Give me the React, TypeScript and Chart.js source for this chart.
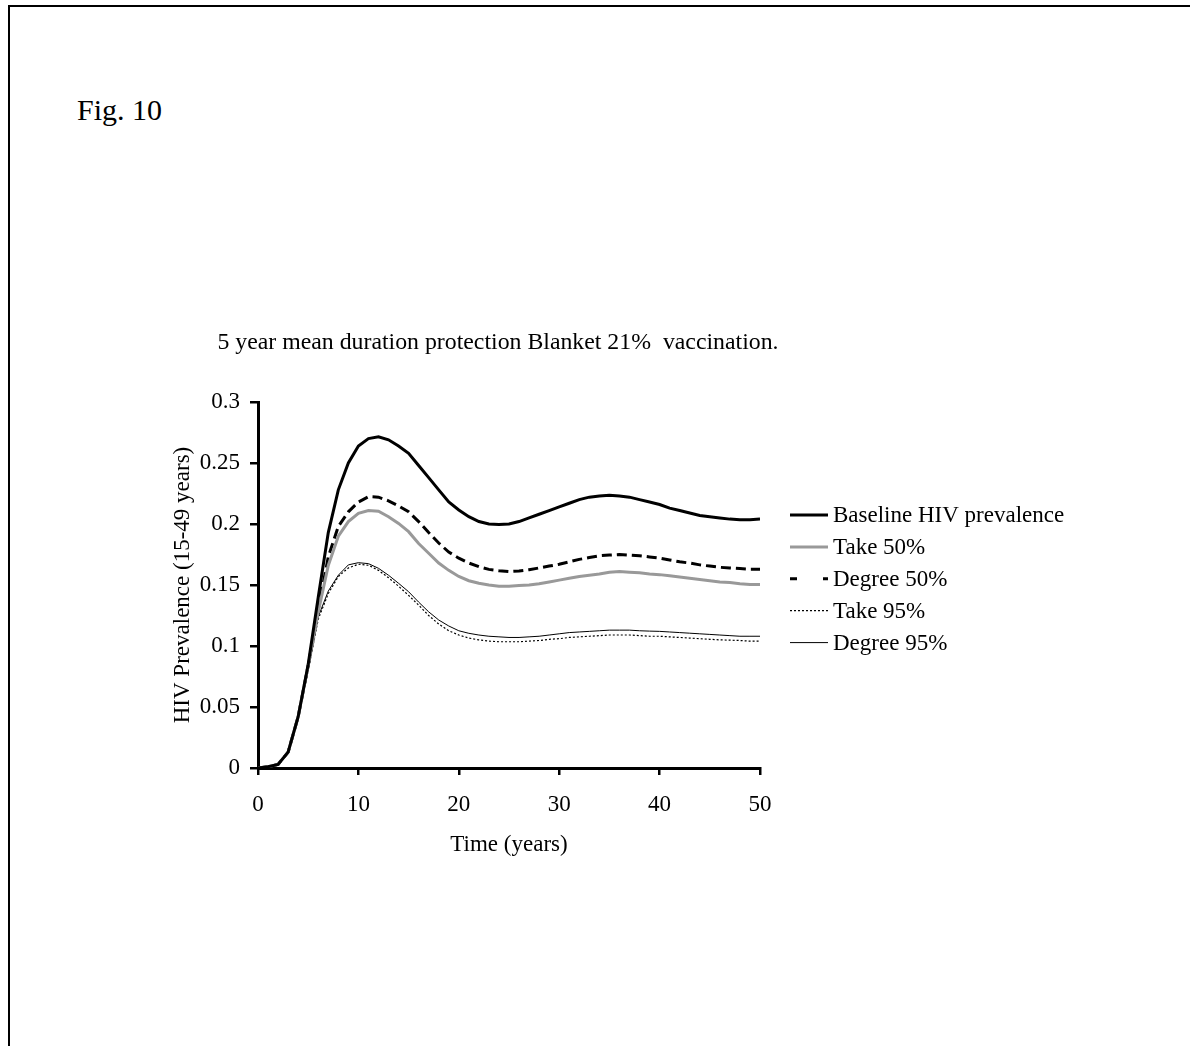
import React, { useEffect, useRef } from "react";
import { Chart, registerables } from "chart.js";

Chart.register(...registerables);

const FIG_LABEL = "Fig. 10";
const CHART_TITLE = "5 year mean duration protection Blanket 21%  vaccination.";
const X_TITLE = "Time (years)";
const Y_TITLE = "HIV Prevalence (15-49 years)";

const YEARS = [
  0, 1, 2, 3, 4, 5, 6, 7, 8, 9, 10, 11, 12, 13, 14, 15, 16, 17, 18, 19, 20, 21, 22, 23, 24, 25,
  26, 27, 28, 29, 30, 31, 32, 33, 34, 35, 36, 37, 38, 39, 40, 41, 42, 43, 44, 45, 46, 47, 48, 49, 50,
];

const SERIES_NAMES = ["Baseline HIV prevalence", "Take 50%", "Degree 50%", "Take 95%", "Degree 95%"];

const BASELINE = [
  0, 0.001, 0.003, 0.013, 0.042, 0.085, 0.14, 0.193, 0.228, 0.25, 0.264, 0.27, 0.2715, 0.269, 0.264,
  0.258, 0.248, 0.238, 0.228, 0.218, 0.2115, 0.206, 0.202, 0.2, 0.1995, 0.2, 0.202, 0.205, 0.208,
  0.211, 0.214, 0.217, 0.22, 0.222, 0.223, 0.2235, 0.223, 0.222, 0.22, 0.218, 0.216, 0.213, 0.211,
  0.209, 0.207, 0.206, 0.205, 0.204, 0.2035, 0.2035, 0.204,
];

const TAKE_50 = [
  0, 0.001, 0.003, 0.013, 0.042, 0.084, 0.128, 0.166, 0.19, 0.202, 0.2087, 0.211, 0.2105, 0.206,
  0.2005, 0.1937, 0.184, 0.176, 0.168, 0.162, 0.157, 0.1535, 0.1514, 0.15, 0.149, 0.149, 0.1495,
  0.15, 0.151, 0.1525, 0.154, 0.1555, 0.157, 0.158, 0.159, 0.1605, 0.161, 0.1605, 0.16, 0.159,
  0.1585, 0.1575, 0.1565, 0.1555, 0.1545, 0.1535, 0.1525, 0.152, 0.151, 0.1505, 0.1505,
];

const DEGREE_50 = [
  0, 0.001, 0.003, 0.013, 0.042, 0.084, 0.13, 0.173, 0.198, 0.21, 0.218, 0.2224, 0.222, 0.219,
  0.2148, 0.21, 0.202, 0.193, 0.1844, 0.177, 0.172, 0.168, 0.165, 0.1628, 0.1617, 0.161, 0.1615,
  0.1625, 0.164, 0.1655, 0.167, 0.169, 0.171, 0.1725, 0.174, 0.1745, 0.175, 0.1745, 0.174, 0.173,
  0.172, 0.1705, 0.169, 0.168, 0.1665, 0.1655, 0.1645, 0.164, 0.1635, 0.163, 0.163,
];

const TAKE_95 = [
  0, 0.001, 0.003, 0.013, 0.041, 0.08, 0.122, 0.143, 0.157, 0.164, 0.167, 0.1662, 0.162, 0.156,
  0.149, 0.1415, 0.1335, 0.125, 0.118, 0.1125, 0.109, 0.1065, 0.105, 0.104, 0.1035, 0.1035, 0.1035,
  0.104, 0.1045, 0.1055, 0.106, 0.107, 0.1075, 0.108, 0.1085, 0.109, 0.109, 0.109, 0.1085, 0.108,
  0.108, 0.1075, 0.107, 0.1065, 0.106, 0.1055, 0.105, 0.1048, 0.1045, 0.104, 0.104,
];

const DEGREE_95 = [
  0, 0.001, 0.003, 0.013, 0.041, 0.08, 0.124, 0.145, 0.158, 0.1665, 0.1683, 0.1675, 0.1637, 0.158,
  0.1514, 0.1445, 0.136, 0.128, 0.1213, 0.1164, 0.1125, 0.1104, 0.109, 0.108, 0.1075, 0.107, 0.107,
  0.1075, 0.108, 0.109, 0.11, 0.111, 0.1115, 0.112, 0.1125, 0.113, 0.113, 0.113, 0.1125, 0.1122,
  0.112, 0.1115, 0.111, 0.1105, 0.11, 0.1095, 0.109, 0.1085, 0.108, 0.108, 0.108,
];

const X_TICKS = [0, 10, 20, 30, 40, 50];
const Y_TICKS = [0, 0.05, 0.1, 0.15, 0.2, 0.25, 0.3];
const Y_TICK_LABELS = ["0", "0.05", "0.1", "0.15", "0.2", "0.25", "0.3"];

const SERIES_VALUES = [BASELINE, TAKE_50, DEGREE_50, TAKE_95, DEGREE_95];
const SERIES_COLORS = ["#000000", "#999999", "#000000", "#000000", "#000000"];
const SERIES_WIDTHS = [3, 3, 3, 1.2, 1];
const SERIES_DASHES: number[][] = [[], [], [10, 5], [2, 2], []];
const LEGEND_DASHES: number[][] = [[], [], [7, 26], [2, 2], []];

const FONT_FAMILY = "'Liberation Serif', 'Times New Roman', Times, serif";

const overlayPlugin = {
  id: "overlayText",
  afterDraw(chart: any) {
    const { ctx, chartArea } = chart;
    ctx.save();
    ctx.fillStyle = "#000";
    ctx.font = `23.8px ${FONT_FAMILY}`;
    ctx.textAlign = "center";
    ctx.textBaseline = "middle";
    ctx.fillText(CHART_TITLE, chartArea.left + 240, chartArea.top - 59);

    ctx.font = `23px ${FONT_FAMILY}`;
    const lx = chartArea.right + 30;
    const ly = chartArea.top + 113;
    chart.data.datasets.forEach((ds: any, i: number) => {
      const y = ly + i * 31.9;
      ctx.beginPath();
      ctx.strokeStyle = ds.borderColor;
      ctx.lineWidth = ds.borderWidth;
      ctx.lineCap = "butt";
      ctx.setLineDash(LEGEND_DASHES[i]);
      ctx.moveTo(lx, y);
      ctx.lineTo(lx + 38, y);
      ctx.stroke();
      ctx.setLineDash([]);
      ctx.textAlign = "left";
      ctx.fillStyle = "#000";
      ctx.fillText(ds.label, lx + 43, y + 1);
    });
    ctx.restore();
  },
};

export default function App() {
  const canvasRef = useRef<HTMLCanvasElement | null>(null);

  useEffect(() => {
    if (!canvasRef.current) return;
    Chart.defaults.font.family = FONT_FAMILY;
    Chart.defaults.color = "#000";
    const chart = new Chart(canvasRef.current, {
      type: "line",
      data: {
        datasets: SERIES_NAMES.map((name, i) => ({
          label: name,
          data: YEARS.map((x, j) => ({ x, y: SERIES_VALUES[i][j] })),
          borderColor: SERIES_COLORS[i],
          backgroundColor: SERIES_COLORS[i],
          borderWidth: SERIES_WIDTHS[i],
          borderDash: SERIES_DASHES[i],
          pointRadius: 0,
          tension: 0,
          fill: false,
        })),
      },
      options: {
        animation: false,
        responsive: false,
        devicePixelRatio: 1,
        events: [],
        layout: { padding: { left: 160, right: 430, top: 402, bottom: 178 } },
        plugins: {
          legend: { display: false },
          title: { display: false },
          tooltip: { enabled: false },
        },
        scales: {
          x: {
            type: "linear",
            min: 0,
            max: 50,
            afterBuildTicks: (s: any) => {
              s.ticks = X_TICKS.map((v) => ({ value: v }));
            },
            afterFit: (s: any) => {
              s.height = 100;
            },
            ticks: {
              font: { size: 23 },
              color: "#000",
              padding: 16,
              maxRotation: 0,
              autoSkip: false,
            },
            grid: {
              drawOnChartArea: false,
              drawTicks: true,
              tickLength: 7,
              color: "#000",
              lineWidth: 2.5,
            },
            border: { display: true, color: "#000", width: 3 },
            title: {
              display: true,
              text: X_TITLE,
              font: { size: 23 },
              color: "#000",
              padding: { top: 0, bottom: 9 },
            },
          },
          y: {
            type: "linear",
            min: 0,
            max: 0.3,
            afterBuildTicks: (s: any) => {
              s.ticks = Y_TICKS.map((v) => ({ value: v }));
            },
            afterFit: (s: any) => {
              s.width = 98;
            },
            ticks: {
              font: { size: 23 },
              color: "#000",
              padding: 10,
              autoSkip: false,
              callback: (v: any) => {
                const k = Y_TICKS.findIndex((t) => Math.abs(t - Number(v)) < 1e-9);
                return k >= 0 ? Y_TICK_LABELS[k] : "";
              },
            },
            grid: {
              drawOnChartArea: false,
              drawTicks: true,
              tickLength: 8,
              color: "#000",
              lineWidth: 2.5,
            },
            border: { display: true, color: "#000", width: 3 },
            title: {
              display: true,
              text: Y_TITLE,
              font: { size: 23 },
              color: "#000",
              padding: { top: 9, bottom: 0 },
            },
          },
        },
      },
      plugins: [overlayPlugin],
    });
    return () => chart.destroy();
  }, []);

  return (
    <div>
      <div
        style={{
          position: "absolute",
          left: 8,
          top: 5,
          width: 1182,
          height: 1041,
          borderTop: "2px solid #000",
          borderLeft: "2px solid #000",
          boxSizing: "border-box",
        }}
      />
      <div
        style={{
          position: "absolute",
          left: 77,
          top: 95,
          fontFamily: FONT_FAMILY,
          fontSize: 30,
          lineHeight: 1,
          color: "#000",
          whiteSpace: "nowrap",
        }}
      >
        {FIG_LABEL}
      </div>
      <canvas
        ref={canvasRef}
        width={1190}
        height={1046}
        style={{ position: "absolute", left: 0, top: 0, width: 1190, height: 1046, display: "block" }}
      />
    </div>
  );
}
